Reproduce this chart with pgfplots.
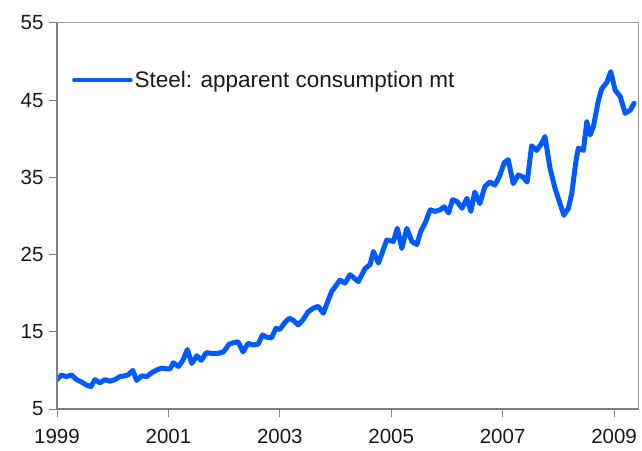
\documentclass[border=0pt]{standalone}
\usepackage{pgfplots}
\pgfplotsset{compat=1.18}
\usepackage{fontspec}
\setmainfont{Liberation Sans}
\definecolor{steelblue}{RGB}{0,90,255}
\definecolor{framegray}{RGB}{128,128,128}
\begin{document}
\begin{tikzpicture}
\path[use as bounding box] (0,0) rectangle (642bp,451bp);
\begin{axis}[
  at={(57bp,42bp)}, anchor=south west,
  scale only axis, width=581bp, height=386bp,
  xmin=1999, xmax=2009.43, ymin=5, ymax=55,
  xtick={1999,2001,2003,2005,2007,2009},
  xticklabels={1999,2001,2003,2005,2007,2009},
  ytick={5,15,25,35,45,55},
  /pgf/number format/assume math mode=true,
  tick label style={font=\fontsize{20.5bp}{22bp}\selectfont, text=black!90},
  tick align=outside, major tick length=8bp,
  tick style={framegray, line width=1bp},
  xtick pos=bottom, ytick pos=left,
  axis line style={framegray!80, line width=1bp},
  yticklabel style={xshift=-2bp},
  xticklabel style={yshift=-9bp},
  legend style={draw=none, fill=none, at={(0.0258,0.852)}, anchor=west, inner sep=0pt,
    font=\fontsize{22.5bp}{24bp}\selectfont, text=black!90},
  legend cell align=left,
  legend image code/.code={\draw[#1, line width=4.5bp] (0bp,0bp) -- (56bp,0bp);},
  every axis legend/.append style={/tikz/every even column/.append style={column sep=0bp}},
  legend style={nodes={inner sep=2bp}},
  after end axis/.code={
    \draw[framegray, line width=2bp] (rel axis cs:0,1) -- (rel axis cs:0,0) -- (rel axis cs:1,0);
  },
]
\addplot[steelblue, line width=5bp, line join=round, line cap=round] coordinates {
(1999.00,8.8) (1999.08,9.4) (1999.17,9.2) (1999.26,9.4) (1999.35,8.8) (1999.44,8.5)
(1999.53,8.1) (1999.61,7.9) (1999.68,8.8) (1999.77,8.4) (1999.86,8.8) (1999.95,8.6)
(2000.04,8.8) (2000.13,9.2) (2000.22,9.3) (2000.27,9.4) (2000.36,10.0) (2000.43,8.7)
(2000.52,9.3) (2000.61,9.2) (2000.70,9.7) (2000.79,10.05) (2000.88,10.3) (2000.97,10.2)
(2001.03,10.2) (2001.09,11.0) (2001.18,10.5) (2001.26,11.3) (2001.34,12.7) (2001.42,10.9)
(2001.51,11.9) (2001.59,11.3) (2001.68,12.3) (2001.78,12.2) (2001.89,12.2) (2001.99,12.4)
(2002.09,13.4) (2002.17,13.6) (2002.25,13.7) (2002.34,12.4) (2002.43,13.5) (2002.52,13.3)
(2002.61,13.4) (2002.69,14.6) (2002.76,14.3) (2002.85,14.2) (2002.93,15.45) (2003.00,15.3)
(2003.09,16.2) (2003.17,16.75) (2003.24,16.5) (2003.33,15.9) (2003.42,16.6) (2003.51,17.6)
(2003.60,18.05) (2003.69,18.3) (2003.78,17.4) (2003.87,19.1) (2003.93,20.2) (2004.08,21.7)
(2004.17,21.3) (2004.26,22.4) (2004.41,21.5) (2004.53,23.2) (2004.62,23.7) (2004.68,25.4)
(2004.77,23.9) (2004.92,26.9) (2005.04,26.7) (2005.11,28.4) (2005.19,25.8) (2005.28,28.4)
(2005.37,26.7) (2005.46,26.3) (2005.53,28.0) (2005.61,29.1) (2005.70,30.8) (2005.79,30.6)
(2005.88,30.8) (2005.95,31.2) (2006.03,30.4) (2006.10,32.1) (2006.18,31.9) (2006.27,31.0)
(2006.36,32.3) (2006.43,30.6) (2006.50,33.1) (2006.59,31.6) (2006.68,33.8) (2006.77,34.4)
(2006.86,34.0) (2006.94,35.1) (2007.03,36.9) (2007.10,37.3) (2007.19,34.2) (2007.28,35.3)
(2007.36,35.1) (2007.44,34.4) (2007.52,39.1) (2007.61,38.5) (2007.70,39.4) (2007.76,40.3)
(2007.85,36.2) (2007.94,33.6) (2008.03,31.6) (2008.10,30.1) (2008.18,31.0) (2008.24,32.9)
(2008.32,37.3) (2008.36,38.8) (2008.45,38.5) (2008.51,42.2) (2008.57,40.5) (2008.63,41.6)
(2008.72,45.0) (2008.78,46.5) (2008.87,47.3) (2008.94,48.7) (2009.02,46.3) (2009.11,45.5)
(2009.20,43.3) (2009.29,43.7) (2009.36,44.6)
};
\addlegendentry{Steel: apparent consumption mt}
\end{axis}
\end{tikzpicture}
\end{document}
